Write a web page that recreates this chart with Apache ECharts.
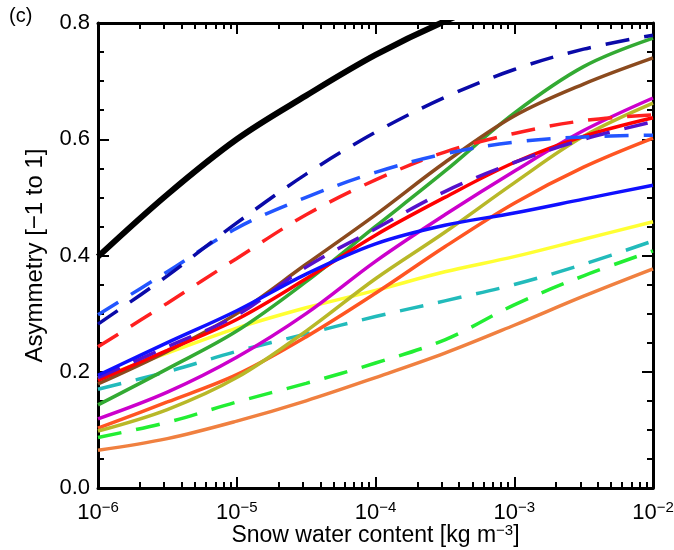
<!DOCTYPE html>
<html>
<head>
<meta charset="utf-8">
<script src="https://cdn.jsdelivr.net/npm/echarts@6/dist/echarts.min.js"></script>
<style>
  html, body { margin: 0; padding: 0; background: #fff; }
  #chart { width: 674px; height: 550px; }
</style>
</head>
<body>
<div id="chart"></div>
<script>
// Snow water content sample points [kg m^-3] (half-decade steps)
const swc = [1e-6, 3.16e-6, 1e-5, 3.16e-5, 1e-4, 3.16e-4, 1e-3, 3.16e-3, 1e-2];

// Asymmetry parameter for each particle model
const blackThick   = [0.398, 0.505, 0.600, 0.675, 0.745, 0.803, 0.850, null, null];
const navyDash     = [0.282, 0.365, 0.456, 0.540, 0.612, 0.672, 0.720, 0.755, 0.779];
const royalDash    = [0.298, 0.372, 0.447, 0.500, 0.543, 0.575, 0.595, 0.604, 0.607];
const redDash      = [0.243, 0.318, 0.395, 0.470, 0.530, 0.578, 0.610, 0.632, 0.642];
const blueSolid    = [0.194, 0.250, 0.305, 0.368, 0.420, 0.452, 0.473, 0.497, 0.521];
const indigoDash   = [0.190, 0.243, 0.297, 0.380, 0.446, 0.510, 0.560, 0.600, 0.630];
const redSolid     = [0.185, 0.237, 0.290, 0.360, 0.435, 0.500, 0.560, 0.605, 0.637];
const brownSolid   = [0.179, 0.235, 0.300, 0.385, 0.470, 0.560, 0.640, 0.695, 0.740];
const greenSolid   = [0.143, 0.205, 0.270, 0.355, 0.450, 0.545, 0.645, 0.725, 0.774];
const magentaSolid = [0.119, 0.165, 0.225, 0.300, 0.390, 0.470, 0.545, 0.615, 0.671];
const oliveSolid   = [0.098, 0.135, 0.190, 0.270, 0.360, 0.440, 0.525, 0.605, 0.662];
const tomatoSolid  = [0.103, 0.148, 0.195, 0.260, 0.335, 0.415, 0.490, 0.552, 0.602];
const yellowSolid  = [0.189, 0.232, 0.275, 0.310, 0.340, 0.372, 0.398, 0.428, 0.458];
const cyanDash     = [0.170, 0.200, 0.235, 0.265, 0.295, 0.322, 0.350, 0.385, 0.425];
const limeDash     = [0.087, 0.113, 0.148, 0.180, 0.215, 0.255, 0.315, 0.365, 0.408];
const sandySolid   = [0.065, 0.085, 0.115, 0.150, 0.190, 0.232, 0.280, 0.330, 0.377];

// Axis tick settings
const yTicks = [0.0, 0.2, 0.4, 0.6, 0.8];
const xDecades = [-6, -5, -4, -3, -2];

// log10 positions of the 2..9 minor ticks inside every decade
const minorLog = [];
for (let d = xDecades[0]; d < xDecades[xDecades.length - 1]; d++) {
  for (let k = 2; k <= 9; k++) minorLog.push(d + Math.log10(k));
}

const FONT = 'Liberation Sans, Arial, Helvetica, sans-serif';
const DASH = [24, 15];

const seriesDefs = [
  { name: 'sandy',   y: sandySolid,   color: '#f08040', dash: false },
  { name: 'lime',    y: limeDash,     color: '#22ee33', dash: true  },
  { name: 'cyan',    y: cyanDash,     color: '#22bbbb', dash: true  },
  { name: 'yellow',  y: yellowSolid,  color: '#ffff33', dash: false },
  { name: 'tomato',  y: tomatoSolid,  color: '#ff5522', dash: false },
  { name: 'olive',   y: oliveSolid,   color: '#b8b828', dash: false },
  { name: 'magenta', y: magentaSolid, color: '#cc00cc', dash: false },
  { name: 'green',   y: greenSolid,   color: '#33aa33', dash: false },
  { name: 'brown',   y: brownSolid,   color: '#8b4a1e', dash: false },
  { name: 'red',     y: redSolid,     color: '#ff0000', dash: false },
  { name: 'indigo',  y: indigoDash,   color: '#5511cc', dash: true  },
  { name: 'blue',    y: blueSolid,    color: '#1010ff', dash: false },
  { name: 'redDash', y: redDash,      color: '#ff2020', dash: true  },
  { name: 'royal',   y: royalDash,    color: '#2255ff', dash: true  },
  { name: 'navy',    y: navyDash,     color: '#0a0aa8', dash: true  },
  { name: 'black',   y: blackThick,   color: '#000000', dash: false, width: 6 }
];

const series = seriesDefs.map(d => ({
  name: d.name,
  type: 'line',
  xAxisIndex: 0,
  yAxisIndex: 0,
  smooth: 0.35,
  symbol: 'none',
  clip: true,
  lineStyle: { color: d.color, width: d.width || 3.5, type: d.dash ? DASH : 'solid', cap: 'butt' },
  data: swc.map((x, i) => [x, d.y[i]])
}));

const axisLine = { show: true, onZero: false, lineStyle: { color: '#000', width: 3 } };
const noLine = { show: false, onZero: false };
const majorTick = { show: true, inside: true, length: 11, lineStyle: { color: '#000', width: 2 } };
const minorXTick = { show: true, inside: true, length: 6, customValues: minorLog, lineStyle: { color: '#000', width: 2 } };
const yMinor = { show: true, splitNumber: 4, length: 6, lineStyle: { color: '#000', width: 2 } };
const plotBox = { left: 98, right: 21, top: 23, bottom: 62, containLabel: false, outerBoundsMode: 'none' };

const option = {
  animation: false,
  backgroundColor: '#fff',
  // grid 0 carries the data and the frame; grid 1 (same box) only carries the minor log ticks
  grid: [Object.assign({}, plotBox), Object.assign({}, plotBox)],
  xAxis: [
    {
      gridIndex: 0, type: 'log', logBase: 10, min: 1e-6, max: 1e-2, position: 'bottom',
      axisLine, axisTick: majorTick, splitLine: { show: false },
      axisLabel: {
        margin: 12, color: '#000',
        formatter: v => '{b|10}{s|' + String(Math.round(Math.log10(v))).replace('-', '\u2212') + '}',
        rich: {
          b: { fontFamily: FONT, fontSize: 22, color: '#000', lineHeight: 26 },
          s: { fontFamily: FONT, fontSize: 15, color: '#000', verticalAlign: 'top', lineHeight: 26, padding: [0, 0, 8, 0] }
        }
      },
      name: '{t|Snow water content [kg m}{s|\u22123}{t|]}',
      nameLocation: 'middle', nameGap: 35, nameMoveOverlap: false,
      nameTextStyle: {
        rich: {
          t: { fontFamily: FONT, fontSize: 23, color: '#000', lineHeight: 26 },
          s: { fontFamily: FONT, fontSize: 15, color: '#000', verticalAlign: 'top', lineHeight: 26, padding: [0, 0, 8, 0] }
        }
      }
    },
    {
      gridIndex: 0, type: 'log', logBase: 10, min: 1e-6, max: 1e-2, position: 'top',
      axisLine, axisTick: majorTick, axisLabel: { show: false }, splitLine: { show: false }
    },
    {
      gridIndex: 1, type: 'value', min: -6, max: -2, position: 'bottom',
      axisLine: noLine, axisLabel: { show: false }, splitLine: { show: false }, axisTick: minorXTick
    },
    {
      gridIndex: 1, type: 'value', min: -6, max: -2, position: 'top',
      axisLine: noLine, axisLabel: { show: false }, splitLine: { show: false }, axisTick: minorXTick
    }
  ],
  yAxis: [
    {
      gridIndex: 0, type: 'value', min: yTicks[0], max: yTicks[yTicks.length - 1], interval: 0.2, position: 'left',
      axisLine, axisTick: majorTick, splitLine: { show: false }, minorTick: yMinor,
      axisLabel: { fontFamily: FONT, fontSize: 22, color: '#000', margin: 8, formatter: v => v.toFixed(1) },
      name: 'Asymmetry [\u22121 to 1]',
      nameLocation: 'middle', nameRotate: 90, nameGap: 51, nameMoveOverlap: false,
      nameTextStyle: { fontFamily: FONT, fontSize: 24, color: '#000' }
    },
    {
      gridIndex: 0, type: 'value', min: yTicks[0], max: yTicks[yTicks.length - 1], interval: 0.2, position: 'right',
      axisLine, axisTick: majorTick, splitLine: { show: false }, minorTick: yMinor,
      axisLabel: { show: false }
    },
    {
      gridIndex: 1, type: 'value', min: 0, max: 1, show: false
    }
  ],
  graphic: [
    { type: 'text', left: 9, top: 6, style: { text: '(c)', font: '20px ' + FONT, fill: '#000' } }
  ],
  series
};

const chart = echarts.init(document.getElementById('chart'), null, { renderer: 'canvas' });
chart.setOption(option);
</script>
</body>
</html>
